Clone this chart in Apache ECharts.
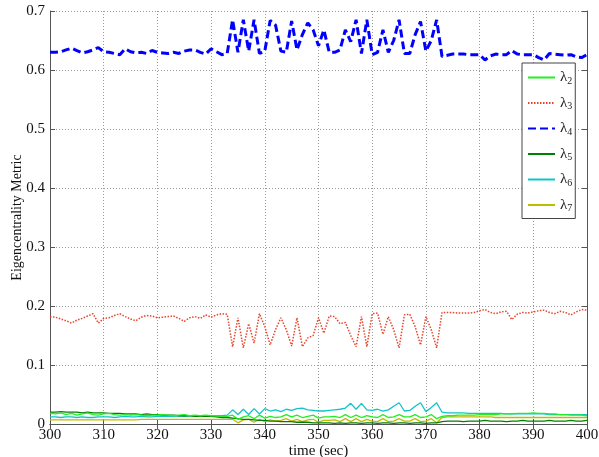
<!DOCTYPE html>
<html>
<head>
<meta charset="utf-8">
<script src="https://cdn.jsdelivr.net/npm/echarts@6/dist/echarts.min.js"></script>
<style>
  html, body { margin: 0; padding: 0; background: #fff; }
  #chart { width: 599px; height: 457px; }
</style>
</head>
<body>
<div id="chart"></div>
<script>
// Sample times (sec), one sample per second
const times = [];
for (let t = 300; t <= 400; t++) times.push(t);

const seriesNames = ['λ2', 'λ3', 'λ4', 'λ5', 'λ6', 'λ7'];

const lambda2 = [
  0.018, 0.017, 0.019, 0.016, 0.018, 0.015, 0.017, 0.019, 0.016, 0.015,
  0.017, 0.018, 0.016, 0.015, 0.016, 0.015, 0.016, 0.015, 0.014, 0.015,
  0.015, 0.016, 0.015, 0.014, 0.015, 0.016, 0.014, 0.015, 0.014, 0.015,
  0.014, 0.014, 0.013, 0.013,
  0.015, 0.008, 0.012, 0.014, 0.009, 0.015, 0.010, 0.013, 0.011, 0.012,
  0.016, 0.012, 0.015, 0.011, 0.013, 0.015, 0.010, 0.012, 0.012, 0.013,
  0.011, 0.016, 0.011, 0.015, 0.011, 0.014, 0.012, 0.011, 0.016, 0.011,
  0.012, 0.016, 0.012, 0.012, 0.016, 0.011, 0.012, 0.016, 0.009,
  0.013, 0.014, 0.014, 0.015, 0.015, 0.015, 0.015, 0.016, 0.016, 0.016,
  0.016, 0.017, 0.017, 0.017, 0.018, 0.018, 0.018, 0.019, 0.018, 0.018,
  0.017, 0.017, 0.016, 0.016, 0.015, 0.015, 0.015, 0.014
];

const lambda3 = [
  0.182, 0.181, 0.178, 0.175, 0.171, 0.176, 0.179, 0.183, 0.187, 0.171,
  0.179, 0.180, 0.184, 0.187, 0.182, 0.178, 0.175, 0.181, 0.184, 0.183,
  0.180, 0.181, 0.182, 0.183, 0.179, 0.174, 0.180, 0.182, 0.179, 0.185,
  0.181, 0.185, 0.187, 0.186,
  0.131, 0.180, 0.129, 0.170, 0.137, 0.187, 0.165, 0.134, 0.160, 0.180,
  0.160, 0.132, 0.180, 0.131, 0.146, 0.150, 0.180, 0.154, 0.183, 0.182,
  0.170, 0.172, 0.150, 0.131, 0.182, 0.131, 0.187, 0.188, 0.152, 0.182,
  0.160, 0.129, 0.185, 0.186, 0.165, 0.134, 0.182, 0.160, 0.129,
  0.189, 0.189, 0.189, 0.188, 0.188, 0.188, 0.189, 0.192, 0.194, 0.189,
  0.187, 0.190, 0.191, 0.177, 0.186, 0.189, 0.188, 0.190, 0.192, 0.193,
  0.189, 0.187, 0.191, 0.189, 0.185, 0.190, 0.194, 0.193
];

const lambda4 = [
  0.630, 0.630, 0.631, 0.634, 0.637, 0.633, 0.629, 0.631, 0.634, 0.638,
  0.631, 0.630, 0.628, 0.626, 0.636, 0.631, 0.629, 0.630, 0.628, 0.633,
  0.630, 0.629, 0.628, 0.630, 0.628, 0.632, 0.634, 0.634, 0.630, 0.627,
  0.636, 0.631, 0.626, 0.628,
  0.685, 0.630, 0.685, 0.632, 0.685, 0.628, 0.632, 0.684, 0.676, 0.632,
  0.630, 0.683, 0.634, 0.660, 0.680, 0.668, 0.641, 0.668, 0.630, 0.630,
  0.634, 0.668, 0.648, 0.685, 0.628, 0.685, 0.626, 0.630, 0.668, 0.630,
  0.650, 0.685, 0.628, 0.628, 0.660, 0.682, 0.632, 0.650, 0.685,
  0.623, 0.625, 0.627, 0.627, 0.627, 0.626, 0.626, 0.626, 0.617, 0.624,
  0.627, 0.626, 0.626, 0.633, 0.627, 0.626, 0.626, 0.626, 0.621, 0.617,
  0.628, 0.627, 0.626, 0.625, 0.626, 0.622, 0.621, 0.626
];

const lambda5 = [
  0.020, 0.020, 0.021, 0.020, 0.020, 0.020, 0.019, 0.020, 0.019, 0.019,
  0.019, 0.018, 0.018, 0.018, 0.017, 0.017, 0.017, 0.016, 0.017, 0.016,
  0.016, 0.015, 0.015, 0.015, 0.014, 0.014, 0.014, 0.013, 0.013, 0.013,
  0.013, 0.012, 0.011, 0.011,
  0.010, 0.009, 0.008, 0.008, 0.007, 0.006, 0.006, 0.005, 0.005, 0.004,
  0.004, 0.004, 0.003, 0.003, 0.003, 0.002, 0.002, 0.002, 0.002, 0.001,
  0.002, 0.001, 0.002, 0.002, 0.001, 0.002, 0.002, 0.001, 0.002, 0.002,
  0.001, 0.002, 0.002, 0.001, 0.002, 0.002, 0.001, 0.002, 0.002,
  0.004, 0.005, 0.005, 0.005, 0.004, 0.005, 0.005, 0.005, 0.006, 0.005,
  0.005, 0.005, 0.004, 0.005, 0.005, 0.006, 0.005, 0.005, 0.005, 0.005,
  0.006, 0.005, 0.005, 0.005, 0.006, 0.005, 0.005, 0.006
];

const lambda6 = [
  0.012, 0.012, 0.011, 0.012, 0.012, 0.011, 0.012, 0.011, 0.011, 0.012,
  0.012, 0.012, 0.011, 0.012, 0.013, 0.012, 0.012, 0.013, 0.012, 0.012,
  0.013, 0.013, 0.013, 0.013, 0.014, 0.013, 0.014, 0.014, 0.014, 0.014,
  0.014, 0.014, 0.014, 0.015,
  0.024, 0.016, 0.025, 0.016, 0.026, 0.017, 0.026, 0.022, 0.024, 0.021,
  0.025, 0.023, 0.026, 0.027, 0.024, 0.023, 0.022, 0.022, 0.023, 0.024,
  0.025, 0.027, 0.035, 0.025, 0.035, 0.024, 0.023, 0.025, 0.022, 0.024,
  0.030, 0.036, 0.022, 0.023, 0.030, 0.036, 0.021, 0.028, 0.036,
  0.020, 0.019, 0.019, 0.019, 0.019, 0.018, 0.018, 0.018, 0.018, 0.018,
  0.018, 0.018, 0.017, 0.017, 0.017, 0.017, 0.017, 0.017, 0.017, 0.017,
  0.016, 0.016, 0.016, 0.016, 0.016, 0.016, 0.016, 0.016
];

const lambda7 = [
  0.007, 0.007, 0.007, 0.007, 0.007, 0.007, 0.007, 0.007, 0.007, 0.007,
  0.007, 0.007, 0.007, 0.007, 0.007, 0.007, 0.007, 0.008, 0.008, 0.008,
  0.008, 0.008, 0.008, 0.008, 0.008, 0.008, 0.008, 0.008, 0.008, 0.008,
  0.008, 0.008, 0.008, 0.008,
  0.008, 0.002, 0.007, 0.008, 0.003, 0.008, 0.004, 0.007, 0.005, 0.006,
  0.009, 0.005, 0.008, 0.004, 0.007, 0.008, 0.003, 0.006, 0.006, 0.007,
  0.004, 0.009, 0.004, 0.009, 0.004, 0.008, 0.005, 0.004, 0.009, 0.004,
  0.005, 0.009, 0.005, 0.005, 0.009, 0.004, 0.005, 0.009, 0.002,
  0.011, 0.012, 0.012, 0.012, 0.012, 0.012, 0.012, 0.012, 0.012, 0.012,
  0.011, 0.011, 0.011, 0.011, 0.011, 0.011, 0.011, 0.011, 0.011, 0.011,
  0.011, 0.011, 0.011, 0.011, 0.011, 0.011, 0.011, 0.011
];

const xTicks = { min: 300, max: 400, step: 10 };
const yTicks = { min: 0, max: 0.7, step: 0.1 };

const FONT = '"Liberation Serif", "DejaVu Serif", serif';

function pairs(values) {
  return values.map((v, i) => [times[i], v]);
}

const styles = [
  { color: '#22ee22', type: 'solid', width: 1.3 },
  { color: '#e8432a', type: [1.5, 1.5], width: 1.5 },
  { color: '#0000ff', type: [8, 4], width: 3 },
  { color: '#008000', type: 'solid', width: 1.3 },
  { color: '#11c4c8', type: 'solid', width: 1.3 },
  { color: '#bdbd00', type: 'solid', width: 1.3 }
];
const allValues = [lambda2, lambda3, lambda4, lambda5, lambda6, lambda7];
const drawOrder = [2, 1, 0, 3, 4, 5];

const series = seriesNames.map((name, i) => ({
  name: name,
  type: 'line',
  data: pairs(allValues[i]),
  symbol: 'none',
  animation: false,
  z: 10 - drawOrder.indexOf(i),
  lineStyle: { color: styles[i].color, type: styles[i].type, width: styles[i].width },
  itemStyle: { color: styles[i].color }
}));

const chart = echarts.init(document.getElementById('chart'), null, { renderer: 'canvas' });

const axisColor = '#555';
const gridLine = { show: true, lineStyle: { color: '#9a9a9a', type: [1, 2], width: 1 } };

chart.setOption({
  backgroundColor: '#fff',
  animation: false,
  grid: { left: 50, right: 12, top: 11, bottom: 33, containLabel: false, outerBoundsMode: 'none' },
  legend: {
    orient: 'vertical',
    left: 522,
    top: 63,
    padding: [6, 3, 5, 5],
    itemGap: 8.5,
    itemWidth: 27,
    itemHeight: 10,
    backgroundColor: '#fff',
    borderColor: '#444',
    borderWidth: 1,
    borderRadius: 0,
    itemStyle: { opacity: 0 },
    data: seriesNames,
    formatter: function (name) {
      return '{l|λ}{s|' + name.slice(1) + '}';
    },
    textStyle: {
      fontFamily: FONT,
      color: '#222',
      rich: {
        l: { fontFamily: FONT, fontSize: 15, color: '#222', lineHeight: 16 },
        s: { fontFamily: FONT, fontSize: 10, color: '#222', padding: [7, 0, 0, 0], lineHeight: 10 }
      }
    }
  },
  xAxis: [
    {
      type: 'value',
      min: xTicks.min,
      max: xTicks.max,
      interval: xTicks.step,
      name: 'time (sec)',
      nameLocation: 'middle',
      nameGap: 20,
      nameMoveOverlap: false,
      nameTextStyle: { fontFamily: FONT, fontSize: 15, color: '#111' },
      axisLine: { show: true, lineStyle: { color: axisColor, width: 1 } },
      axisTick: { show: true, inside: true, length: 5, lineStyle: { color: axisColor } },
      axisLabel: { fontFamily: FONT, fontSize: 15, color: '#111', margin: 4 },
      splitLine: gridLine
    },
    {
      type: 'value',
      position: 'top',
      min: xTicks.min,
      max: xTicks.max,
      interval: xTicks.step,
      axisLine: { show: true, lineStyle: { color: axisColor, width: 1 } },
      axisTick: { show: true, inside: true, length: 5, lineStyle: { color: axisColor } },
      axisLabel: { show: false },
      splitLine: { show: false }
    }
  ],
  yAxis: [
    {
      type: 'value',
      min: yTicks.min,
      max: yTicks.max,
      interval: yTicks.step,
      name: 'Eigencentrality Metric',
      nameLocation: 'middle',
      nameGap: 26,
      nameMoveOverlap: false,
      nameTextStyle: { fontFamily: FONT, fontSize: 14, color: '#111' },
      axisLine: { show: true, lineStyle: { color: axisColor, width: 1 } },
      axisTick: { show: true, inside: true, length: 5, lineStyle: { color: axisColor } },
      axisLabel: {
        fontFamily: FONT, fontSize: 15, color: '#111', margin: 5,
        formatter: function (v) { return v === 0 ? '0' : String(Math.round(v * 10) / 10); }
      },
      splitLine: gridLine
    },
    {
      type: 'value',
      position: 'right',
      min: yTicks.min,
      max: yTicks.max,
      interval: yTicks.step,
      axisLine: { show: true, lineStyle: { color: axisColor, width: 1 } },
      axisTick: { show: true, inside: true, length: 5, lineStyle: { color: axisColor } },
      axisLabel: { show: false },
      splitLine: { show: false }
    }
  ],
  series: series
});
</script>
</body>
</html>
